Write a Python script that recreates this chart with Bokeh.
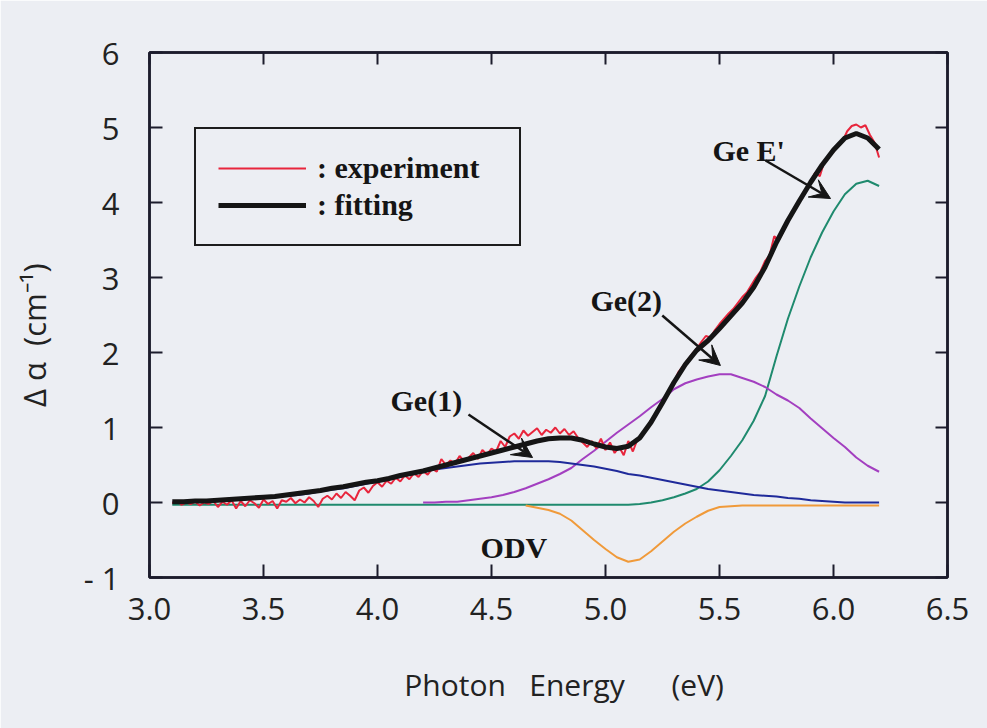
from bokeh.plotting import figure
from bokeh.models import (FixedTicker, LinearAxis, Legend, LegendItem, Label,
                          Arrow, VeeHead, PrintfTickFormatter)
from bokeh.embed import file_html
from bokeh.resources import INLINE

# ---------------- data ----------------
# smooth curves sampled every 0.05 eV from 3.10 to 6.20 eV
energy = [3.10, 3.15, 3.20, 3.25, 3.30, 3.35, 3.40, 3.45, 3.50, 3.55, 3.60, 3.65,
          3.70, 3.75, 3.80, 3.85, 3.90, 3.95, 4.00, 4.05, 4.10, 4.15, 4.20, 4.25,
          4.30, 4.35, 4.40, 4.45, 4.50, 4.55, 4.60, 4.65, 4.70, 4.75, 4.80, 4.85,
          4.90, 4.95, 5.00, 5.05, 5.10, 5.15, 5.20, 5.25, 5.30, 5.35, 5.40, 5.45,
          5.50, 5.55, 5.60, 5.65, 5.70, 5.75, 5.80, 5.85, 5.90, 5.95, 6.00, 6.05,
          6.10, 6.15, 6.20]

fitting = [0.01, 0.01, 0.02, 0.02, 0.03, 0.04, 0.05, 0.06, 0.07, 0.08, 0.10, 0.12,
           0.14, 0.16, 0.19, 0.21, 0.24, 0.27, 0.29, 0.32, 0.36, 0.39, 0.42, 0.46,
           0.50, 0.54, 0.58, 0.62, 0.66, 0.70, 0.74, 0.78, 0.82, 0.85, 0.86, 0.86,
           0.83, 0.78, 0.74, 0.72, 0.75, 0.86, 1.07, 1.33, 1.60, 1.84, 2.03, 2.16,
           2.32, 2.49, 2.66, 2.87, 3.14, 3.47, 3.76, 4.02, 4.27, 4.50, 4.70, 4.86,
           4.92, 4.86, 4.71]

ge1 = [0.00, 0.01, 0.01, 0.02, 0.02, 0.03, 0.04, 0.05, 0.06, 0.07, 0.09, 0.10,
       0.12, 0.15, 0.17, 0.19, 0.22, 0.25, 0.28, 0.31, 0.34, 0.38, 0.41, 0.44,
       0.46, 0.48, 0.50, 0.52, 0.53, 0.54, 0.55, 0.55, 0.55, 0.55, 0.54, 0.52,
       0.50, 0.48, 0.45, 0.42, 0.38, 0.36, 0.33, 0.30, 0.27, 0.24, 0.21, 0.18,
       0.16, 0.14, 0.12, 0.10, 0.09, 0.08, 0.06, 0.05, 0.03, 0.02, 0.01, 0.00,
       0.00, 0.00, 0.00]

ge_e = [-0.03, -0.03, -0.03, -0.03, -0.03, -0.03, -0.03, -0.03, -0.03, -0.03, -0.03, -0.03,
        -0.03, -0.03, -0.03, -0.03, -0.03, -0.03, -0.03, -0.03, -0.03, -0.03, -0.03, -0.03,
        -0.03, -0.03, -0.03, -0.03, -0.03, -0.03, -0.03, -0.03, -0.03, -0.03, -0.03, -0.03,
        -0.03, -0.03, -0.03, -0.03, -0.03, -0.02, 0.00, 0.03, 0.07, 0.12, 0.18, 0.28,
        0.43, 0.62, 0.83, 1.09, 1.42, 1.95, 2.45, 2.88, 3.27, 3.60, 3.88, 4.11,
        4.25, 4.29, 4.22]

# Ge(2) from 4.20 eV
energy_ge2 = [4.20, 4.25, 4.30, 4.35, 4.40, 4.45, 4.50, 4.55, 4.60, 4.65, 4.70, 4.75,
              4.80, 4.85, 4.90, 4.95, 5.00, 5.05, 5.10, 5.15, 5.20, 5.25, 5.30, 5.35,
              5.40, 5.45, 5.50, 5.55, 5.60, 5.65, 5.70, 5.75, 5.80, 5.85, 5.90, 5.95,
              6.00, 6.05, 6.10, 6.15, 6.20]
ge2 = [0.00, 0.00, 0.01, 0.01, 0.03, 0.05, 0.07, 0.10, 0.14, 0.19, 0.25, 0.31,
       0.38, 0.46, 0.58, 0.69, 0.81, 0.93, 1.04, 1.15, 1.27, 1.38, 1.51, 1.59,
       1.64, 1.68, 1.71, 1.71, 1.66, 1.61, 1.54, 1.44, 1.36, 1.26, 1.12, 0.99,
       0.86, 0.74, 0.60, 0.49, 0.41]

# ODV from 4.65 eV
energy_odv = [4.65, 4.70, 4.75, 4.80, 4.85, 4.90, 4.95, 5.00, 5.05, 5.10, 5.15, 5.20,
              5.25, 5.30, 5.35, 5.40, 5.45, 5.50, 5.55, 5.60, 5.65, 5.70, 5.75, 5.80,
              5.85, 5.90, 5.95, 6.00, 6.05, 6.10, 6.15, 6.20]
odv = [-0.04, -0.07, -0.10, -0.15, -0.24, -0.37, -0.50, -0.62, -0.73, -0.79, -0.76, -0.65,
       -0.52, -0.39, -0.28, -0.19, -0.11, -0.06, -0.05, -0.04, -0.04, -0.04, -0.04, -0.04,
       -0.04, -0.04, -0.04, -0.04, -0.04, -0.04, -0.04, -0.04]

# experiment: sampled every 0.02 eV from 3.10 eV
experiment = [
    -0.01, 0.02, -0.03, 0.00, -0.02, 0.01, -0.04, 0.00, -0.02, 0.02,
    -0.06, 0.01, -0.03, 0.03, -0.08, 0.02, -0.05, 0.03, -0.01, -0.07,
    0.04, -0.02, 0.02, -0.08, 0.03, 0.01, 0.06, -0.01, 0.04, 0.00,
    0.07, 0.02, -0.06, 0.05, 0.09, 0.04, 0.12, 0.06, 0.14, 0.09,
    0.03, 0.16, 0.20, 0.13, 0.22, 0.27, 0.21, 0.29, 0.25, 0.33,
    0.28, 0.36, 0.31, 0.39, 0.34, 0.42, 0.37, 0.45, 0.41, 0.58,
    0.50, 0.56, 0.52, 0.62, 0.55, 0.60, 0.66, 0.58, 0.70, 0.64,
    0.72, 0.68, 0.82, 0.74, 0.88, 0.92, 0.85, 0.96, 0.89, 0.94,
    0.99, 0.90, 0.97, 0.93, 1.00, 0.92, 0.98, 0.90, 0.95, 0.86,
    0.80, 0.74, 0.82, 0.72, 0.85, 0.70, 0.80, 0.66, 0.74, 0.63,
    0.82, 0.68, 0.84, 0.90, 0.98, 1.10, 1.16, 1.30, 1.38, 1.50,
    1.60, 1.74, 1.82, 1.90, 1.98, 2.05, 2.14, 2.22, 2.20, 2.30,
    2.38, 2.45, 2.52, 2.58, 2.66, 2.74, 2.80, 2.90, 3.00, 3.08,
    3.22, 3.30, 3.55, 3.50, 3.62, 3.78, 3.85, 3.98, 4.08, 4.18,
    4.28, 4.40, 4.35, 4.55, 4.62, 4.68, 4.75, 4.82, 4.95, 5.02,
    5.04, 5.00, 5.03, 4.90, 4.80, 4.60]
energy_exp = [round(3.10 + 0.02 * i, 2) for i in range(len(experiment))]

x_ticks = [3.0, 3.5, 4.0, 4.5, 5.0, 5.5, 6.0, 6.5]
y_ticks = [-1, 0, 1, 2, 3, 4, 5, 6]

# ---------------- style ----------------
BG = "#eceef3"
AX = "#1c1c2c"
SANS = "Open Sans"
SERIF = "Liberation Serif"
NB = "\u00a0"

p = figure(width=987, height=728, x_range=(3.0, 6.5), y_range=(-1, 6),
           output_backend="svg", toolbar_location=None,
           min_border_left=149, min_border_right=40,
           min_border_top=52, min_border_bottom=151,
           background_fill_color=BG, border_fill_color=BG)
p.grid.visible = False
p.outline_line_color = AX
p.outline_line_width = 2.5

for ax in (p.xaxis[0], p.yaxis[0]):
    ax.axis_line_color = AX
    ax.axis_line_width = 2.5
    ax.major_tick_line_color = AX
    ax.major_tick_line_width = 2
    ax.major_tick_in = 13
    ax.major_tick_out = 0
    ax.minor_tick_line_color = None
    ax.major_label_text_font = SANS
    ax.major_label_text_font_size = "31px"
    ax.major_label_text_color = "#222222"
    ax.axis_label_text_font = SANS
    ax.axis_label_text_font_style = "normal"
    ax.axis_label_text_color = "#222222"

p.xaxis[0].ticker = FixedTicker(ticks=x_ticks)
p.xaxis[0].formatter = PrintfTickFormatter(format="%.1f")
p.yaxis[0].ticker = FixedTicker(ticks=y_ticks)
p.xaxis[0].major_label_standoff = 20
p.yaxis[0].major_label_standoff = 30
p.yaxis[0].major_label_overrides = {-1: "- 1"}

p.xaxis[0].axis_label = (NB * 4 + "Photon" + NB * 3 + "Energy" + NB * 6 + "(eV)")
p.xaxis[0].axis_label_text_font_size = "30px"
p.xaxis[0].axis_label_standoff = 41
p.yaxis[0].axis_label = "Δ α" + NB * 2 + "(cm⁻¹)" + NB * 5
p.yaxis[0].axis_label_text_font_size = "31px"
p.yaxis[0].axis_label_standoff = 26

top = LinearAxis(ticker=FixedTicker(ticks=x_ticks),
                 major_label_overrides={t: "" for t in x_ticks})
right = LinearAxis(ticker=FixedTicker(ticks=y_ticks),
                   major_label_overrides={t: "" for t in y_ticks})
for ax in (top, right):
    ax.axis_line_color = AX
    ax.axis_line_width = 2.5
    ax.major_tick_line_color = AX
    ax.major_tick_line_width = 2
    ax.major_tick_in = 12
    ax.major_tick_out = 0
    ax.minor_tick_line_color = None
    ax.major_label_standoff = 0
p.add_layout(top, "above")
p.add_layout(right, "right")

# ---------------- curves ----------------
p.line(energy, ge_e, line_color="#1f8a6e", line_width=2)
p.line(energy_odv, odv, line_color="#f09a3a", line_width=2)
p.line(energy_ge2, ge2, line_color="#a33fc0", line_width=2)
p.line(energy, ge1, line_color="#1f2a9a", line_width=2)
r_exp = p.line(energy_exp, experiment, line_color="#e8253c", line_width=2)
r_fit = p.line(energy, fitting, line_color="#151515", line_width=5)

# ---------------- legend ----------------
legend = Legend(items=[LegendItem(label=": experiment", renderers=[r_exp]),
                       LegendItem(label=": fitting", renderers=[r_fit])],
                location=(45, 331), margin=0, padding=22, spacing=3,
                glyph_width=88, glyph_height=30, label_height=30,
                label_width=180, label_standoff=11,
                label_text_font=SERIF, label_text_font_style="bold",
                label_text_font_size="30px", label_text_color="#151515",
                background_fill_color=BG, background_fill_alpha=1,
                border_line_color="#1c1c1c", border_line_width=2,
                border_line_alpha=1)
p.add_layout(legend, "center")

# ---------------- annotations ----------------
def serif_label(x, y, text):
    p.add_layout(Label(x=x, y=y, text=text, text_font=SERIF,
                       text_font_style="bold", text_font_size="30px",
                       text_color="#151515", text_baseline="alphabetic",
                       text_align="left"))

serif_label(5.469, 4.693, "Ge E'")
serif_label(4.934, 2.693, "Ge(2)")
serif_label(4.057, 1.360, "Ge(1)")
serif_label(4.452, -0.604, "ODV")

for xs, ys, xe, ye in [(5.702, 4.56, 5.987, 4.053),
                       (5.249, 2.493, 5.504, 1.827),
                       (4.399, 1.173, 4.680, 0.600)]:
    p.add_layout(Arrow(x_start=xs, y_start=ys, x_end=xe, y_end=ye,
                       line_color="#151515", line_width=2.5,
                       end=VeeHead(size=20, line_color="#151515",
                                   fill_color="#151515", line_width=1)))

open("out.html", "w").write(file_html(p, INLINE))
